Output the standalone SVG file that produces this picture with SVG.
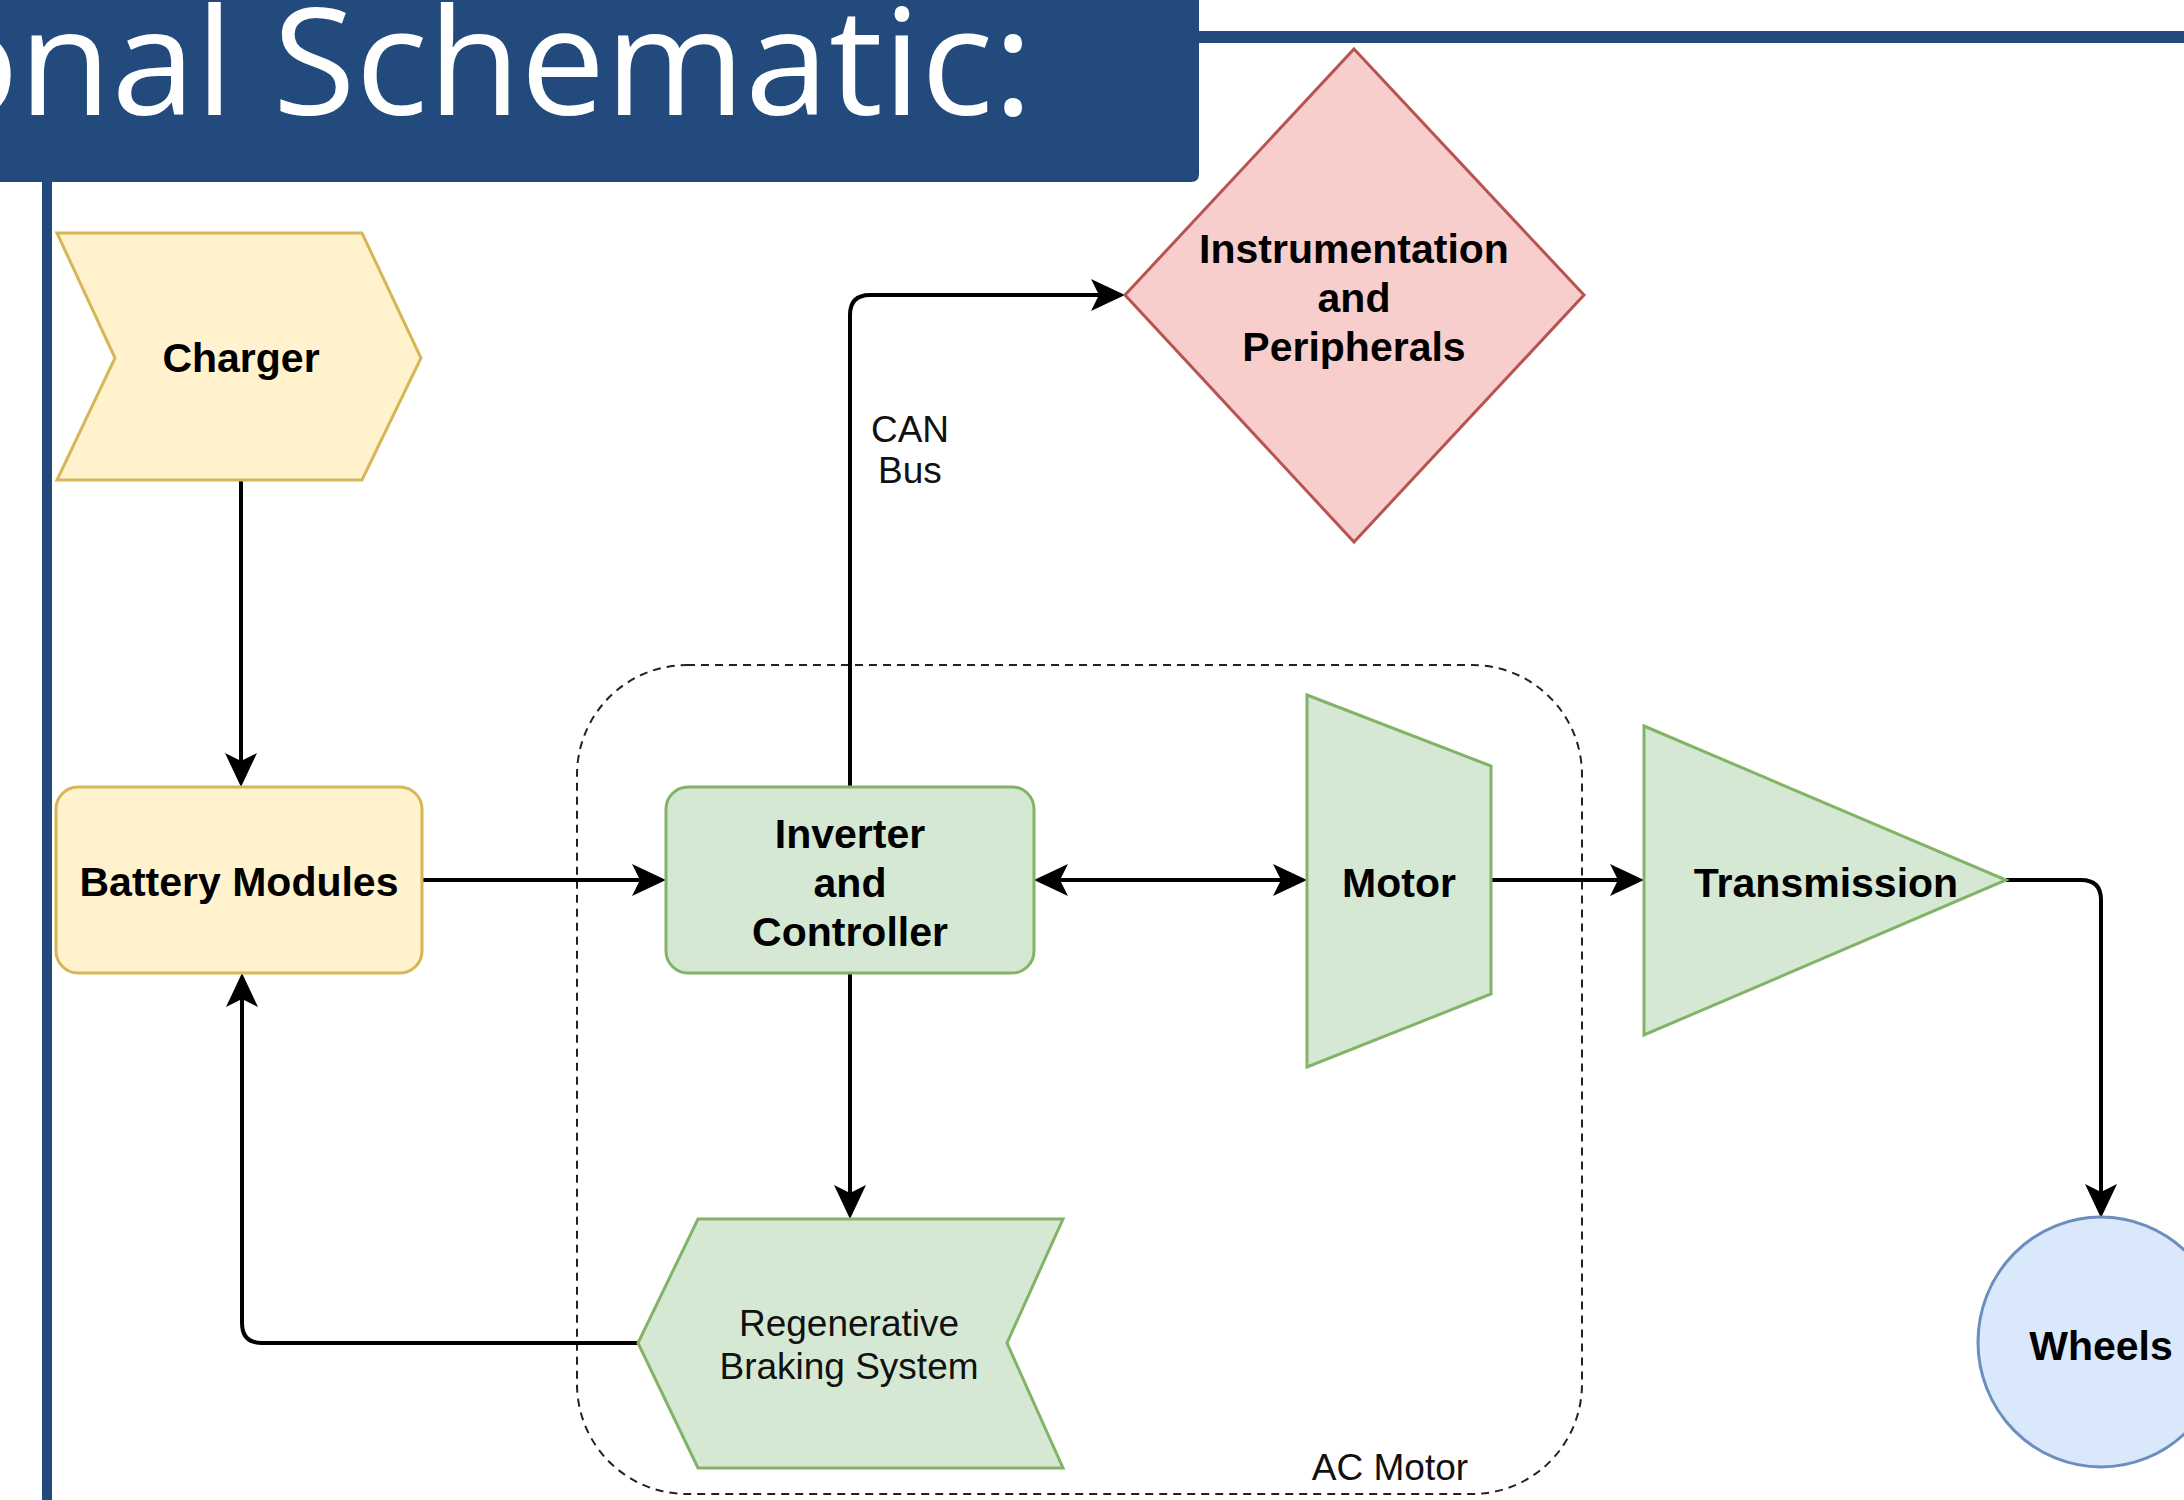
<svg xmlns="http://www.w3.org/2000/svg" width="2184" height="1500" viewBox="0 0 2184 1500">
<style>
.lbl{font-family:"Liberation Sans",Arial,sans-serif;font-size:41px;font-weight:bold;fill:#000;text-anchor:middle}
.reg{font-family:"Liberation Sans",Arial,sans-serif;font-size:37px;fill:#111;text-anchor:middle}
.edge{fill:none;stroke:#000;stroke-width:4}
.yel{fill:#fff2cc;stroke:#d6b656;stroke-width:3}
.grn{fill:#d5e8d4;stroke:#82b366;stroke-width:3}
.red{fill:#f8cecc;stroke:#b85450;stroke-width:3}
.blu{fill:#dae8fc;stroke:#6c8ebf;stroke-width:3}
.bar{fill:#224a7c}
</style>
<defs>
<marker id="arr" viewBox="0 0 34 32" refX="24" refY="16" markerWidth="34" markerHeight="32" markerUnits="userSpaceOnUse" orient="auto-start-reverse">
<path d="M0,0 L34,16 L0,32 L8,16 Z" fill="#000"/>
</marker>
</defs>
<rect width="2184" height="1500" fill="#fff"/>
<g id="header">
<path class="bar" d="M0,0 L1199,0 L1199,174 Q1199,182 1191,182 L0,182 Z"/>
<rect class="bar" x="1199" y="31" width="985" height="12"/>
<rect class="bar" x="42" y="182" width="10" height="1318"/>
<text x="-72" y="115" textLength="1105" lengthAdjust="spacingAndGlyphs" font-family="'Open Sans','Noto Sans',sans-serif" font-size="148" fill="#fff">onal Schematic:</text>
</g>
<g id="ac-motor-group">
<rect x="577" y="665" width="1005" height="829" rx="110" ry="110" fill="none" stroke="#222" stroke-width="2" stroke-dasharray="8 6"/>
<text class="reg" x="1390" y="1480">AC Motor</text>
</g>
<g id="connectors">
<path class="edge" d="M241,481 L241,777" marker-end="url(#arr)"/>
<path class="edge" d="M422,880 L656,880" marker-end="url(#arr)"/>
<path class="edge" d="M850,787 L850,315 Q850,295 870,295 L1115,295" marker-end="url(#arr)"/>
<path class="edge" d="M1044,880 L1297,880" marker-start="url(#arr)" marker-end="url(#arr)"/>
<path class="edge" d="M1491,880 L1634,880" marker-end="url(#arr)"/>
<path class="edge" d="M2006,880 L2081,880 Q2101,880 2101,900 L2101,1208" marker-end="url(#arr)"/>
<path class="edge" d="M850,973 L850,1209" marker-end="url(#arr)"/>
<path class="edge" d="M638,1343 L262,1343 Q242,1343 242,1323 L242,983" marker-end="url(#arr)"/>
<text class="reg" x="910" y="442">CAN</text>
<text class="reg" x="910" y="483">Bus</text>
</g>
<g id="charger">
<polygon class="yel" points="57,233 362,233 421,358 362,480 57,480 115,358"/>
<text class="lbl" x="241" y="372">Charger</text>
</g>
<g id="battery">
<rect class="yel" x="56" y="787" width="366" height="186" rx="22"/>
<text class="lbl" x="239" y="896">Battery Modules</text>
</g>
<g id="inverter">
<rect class="grn" x="666" y="787" width="368" height="186" rx="22"/>
<text class="lbl" x="850" y="848">Inverter</text>
<text class="lbl" x="850" y="897">and</text>
<text class="lbl" x="850" y="946">Controller</text>
</g>
<g id="instrumentation">
<polygon class="red" points="1354,49 1584,295 1354,542 1125,295"/>
<text class="lbl" x="1354" y="263">Instrumentation</text>
<text class="lbl" x="1354" y="312">and</text>
<text class="lbl" x="1354" y="361">Peripherals</text>
</g>
<g id="motor">
<polygon class="grn" points="1307,695 1491,766 1491,994 1307,1067"/>
<text class="lbl" x="1399" y="897">Motor</text>
</g>
<g id="transmission">
<polygon class="grn" points="1644,726 2006,880 1644,1035"/>
<text class="lbl" x="1826" y="897">Transmission</text>
</g>
<g id="wheels">
<ellipse class="blu" cx="2101" cy="1342" rx="123" ry="125"/>
<text class="lbl" x="2101" y="1360">Wheels</text>
</g>
<g id="regen">
<polygon class="grn" points="698,1219 1063,1219 1007,1343 1063,1468 698,1468 638,1343"/>
<text class="reg" x="849" y="1336">Regenerative</text>
<text class="reg" x="849" y="1379">Braking System</text>
</g>
</svg>
